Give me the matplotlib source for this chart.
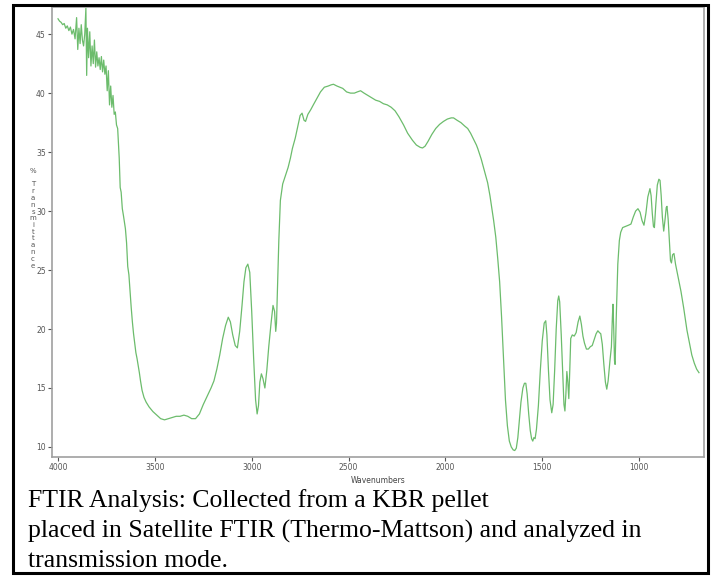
import matplotlib.pyplot as plt
from matplotlib.patches import Rectangle

# FTIR spectrum (wavenumber, % transmittance)
wavenumbers = [
    4000, 3992, 3984, 3976, 3968, 3960, 3952, 3944, 3936, 3928, 3920, 3912,
    3904, 3898, 3892, 3886, 3880, 3874, 3868, 3862, 3856, 3852, 3848, 3842,
    3836, 3830, 3824, 3818, 3812, 3806, 3800, 3794, 3788, 3782, 3776, 3770,
    3764, 3758, 3752, 3746, 3740, 3734, 3728, 3722, 3716, 3710, 3704, 3698,
    3692, 3684, 3679, 3674, 3668, 3662, 3656, 3652, 3646, 3640, 3634, 3628,
    3622, 3616, 3610, 3604, 3598, 3592, 3586, 3580, 3574, 3566, 3556, 3545,
    3530, 3510, 3490, 3470, 3450, 3430, 3410, 3390, 3370, 3350, 3330, 3310,
    3290, 3270, 3250, 3230, 3210, 3195, 3180, 3165, 3150, 3135, 3121, 3110,
    3098, 3085, 3074, 3062, 3050, 3040, 3030, 3020, 3010, 3000, 2990, 2980,
    2972, 2965, 2958, 2950, 2942, 2932, 2922, 2912, 2900, 2890, 2882, 2876,
    2872, 2866, 2860, 2852, 2840, 2826, 2812, 2800, 2790, 2775, 2762, 2750,
    2740, 2730, 2722, 2710, 2695, 2682, 2665, 2645, 2625, 2605, 2590, 2578,
    2560, 2545, 2530, 2510, 2490, 2470, 2455, 2438, 2420, 2400, 2380, 2360,
    2340, 2320, 2300, 2280, 2260, 2240, 2216, 2195, 2170, 2150, 2130, 2118,
    2105, 2090, 2070, 2050, 2030, 2010, 1990, 1970, 1958, 1940, 1920, 1900,
    1885, 1870, 1855, 1840, 1833, 1815, 1800, 1782, 1770, 1760, 1751, 1740,
    1730, 1720, 1710, 1700, 1690, 1680, 1670, 1660, 1650, 1642, 1634, 1626,
    1618, 1610, 1600, 1592, 1585, 1578, 1570, 1562, 1555, 1549, 1543, 1537,
    1530, 1520, 1510, 1500, 1490, 1482, 1476, 1468, 1460, 1451, 1444, 1436,
    1428, 1420, 1415, 1410, 1402, 1394, 1388, 1383, 1378, 1373, 1368, 1363,
    1358, 1353, 1345, 1335, 1325, 1315, 1306, 1298, 1290, 1282, 1272, 1262,
    1252, 1242, 1232, 1222, 1213, 1205, 1198, 1190, 1182, 1174, 1167, 1160,
    1150, 1143, 1138, 1135, 1131, 1127, 1124, 1118, 1110, 1102, 1095, 1085,
    1070, 1055, 1042, 1030, 1018, 1006, 995, 985, 975, 965, 955, 944,
    938, 932, 926, 921, 914, 906, 898, 892, 886, 880, 873, 866,
    860, 856, 850, 844, 838, 833, 827, 820, 812, 800, 784, 770,
    753, 740, 728, 715, 703, 691,
]
transmittance = [
    46.3, 46.1, 46.0, 45.8, 45.9, 45.5, 45.7, 45.3, 45.6, 45.0, 45.4, 44.6,
    46.4, 43.7, 45.5, 44.2, 45.8, 44.5, 44.0, 45.0, 47.2, 41.5, 45.5, 43.0,
    45.2, 42.3, 44.0, 42.5, 44.5, 42.2, 43.5, 42.3, 43.0, 42.0, 43.1, 41.8,
    42.8, 41.6, 42.3, 40.2, 41.9, 39.0, 40.6, 38.8, 39.8, 38.2, 38.4, 37.3,
    37.0, 34.5, 32.0, 31.6, 30.2, 29.6, 28.9, 28.5, 27.3, 25.3, 24.6, 23.2,
    21.8, 20.6, 19.6, 18.8, 18.0, 17.5, 16.9, 16.3, 15.6, 14.8, 14.2, 13.8,
    13.4, 13.0, 12.7, 12.4, 12.3, 12.4, 12.5, 12.6, 12.6, 12.7, 12.6, 12.4,
    12.4, 12.8, 13.6, 14.3, 15.0, 15.6, 16.6, 17.8, 19.2, 20.3, 21.0, 20.6,
    19.5, 18.6, 18.4, 19.8, 22.0, 24.0, 25.2, 25.5, 24.8, 21.5, 17.5, 14.0,
    12.8, 13.5, 15.5, 16.2, 15.8, 15.0, 16.5, 18.5, 20.5, 22.0, 21.5, 19.8,
    20.5, 24.0, 27.5, 30.9, 32.3, 33.0, 33.7, 34.5, 35.3, 36.2, 37.2, 38.1,
    38.3, 37.7, 37.6, 38.2, 38.6, 39.0, 39.5, 40.1, 40.5, 40.6, 40.7, 40.75,
    40.6, 40.5, 40.4, 40.1, 40.0, 40.0, 40.1, 40.2, 40.0, 39.8, 39.6, 39.4,
    39.3, 39.1, 39.0, 38.8, 38.5, 38.0, 37.3, 36.6, 36.0, 35.6, 35.4, 35.35,
    35.5, 35.9, 36.5, 37.0, 37.35, 37.6, 37.8, 37.9, 37.9, 37.7, 37.5, 37.2,
    37.0, 36.6, 36.1, 35.6, 35.3, 34.4, 33.5, 32.4, 31.3, 30.2, 29.2, 27.8,
    26.0, 24.0, 21.0, 17.5, 14.0, 11.8, 10.5, 10.0, 9.75, 9.7, 9.9, 10.8,
    12.3, 13.8, 15.0, 15.4, 15.4, 14.5, 12.8, 11.4, 10.7, 10.5, 10.8, 10.7,
    11.5, 13.5, 16.5, 19.0, 20.5, 20.7, 19.5, 16.5, 14.0, 12.9, 13.6, 16.5,
    20.0, 22.4, 22.8, 22.3, 19.5, 16.0, 13.6, 13.05, 14.5, 16.4, 15.5, 14.1,
    16.5, 19.2, 19.5, 19.4, 19.7, 20.6, 21.1, 20.4, 19.4, 18.8, 18.3, 18.3,
    18.5, 18.6, 19.1, 19.6, 19.85, 19.7, 19.6, 18.7, 17.0, 15.5, 14.9, 15.6,
    17.4, 18.5, 21.0, 22.1, 20.0, 17.3, 17.0, 21.0, 25.5, 27.5, 28.2, 28.6,
    28.7, 28.8, 28.9, 29.5, 30.0, 30.2, 29.9, 29.2, 28.8, 29.8, 31.2, 31.9,
    31.3, 29.8, 28.7, 28.6, 30.5, 32.2, 32.7, 32.6, 31.3, 29.5, 28.3, 29.3,
    30.3, 30.4, 29.3, 27.5, 25.8, 25.6, 26.3, 26.4, 25.5, 24.5, 23.2, 21.8,
    19.9, 18.8, 17.8, 17.1, 16.6, 16.3,
]
x_ticks = [4000, 3500, 3000, 2500, 2000, 1500, 1000]
y_ticks = [10, 15, 20, 25, 30, 35, 40, 45]
caption = [
    "FTIR Analysis: Collected from a KBR pellet",
    "placed in Satellite FTIR (Thermo-Mattson) and analyzed in",
    "transmission mode.",
]

fig = plt.figure(figsize=(7.2, 5.78), dpi=100)
ax = fig.add_axes([52 / 720, 1 - 457 / 578, 652 / 720, 450 / 578])

ax.plot(wavenumbers, transmittance, color='#6cbc6c', lw=0.9)

ax.set_xlim(4031, 665)
ax.set_ylim(9.15, 47.3)
ax.set_xticks(x_ticks)
ax.set_yticks(y_ticks)
ax.tick_params(labelsize=5.5, colors='#555555', length=3, width=0.8, pad=1.5)
for s in ax.spines.values():
    s.set_color('#a0a0a0')
    s.set_linewidth(1.2)

ax.set_xlabel('Wavenumbers', fontsize=5.5, color='#444444', labelpad=3)

# vertical stacked axis label
fig.text(33 / 720, 1 - 168 / 578, "%\n\nT\nr\na\nn\ns\nm\ni\nt\nt\na\nn\nc\ne",
         fontsize=5, color='#555555', ha='center', va='top', linespacing=1.15)

# caption below the chart
for i, line in enumerate(caption):
    fig.text(28 / 720, 1 - (501 + 30 * i) / 578, line, fontsize=18.5,
             family='Liberation Serif', ha='left', va='center')

# black frame round the whole picture
fig.patches.append(Rectangle((13 / 720, 5 / 578), 695 / 720, 568 / 578,
                             transform=fig.transFigure, fill=False,
                             edgecolor='black', lw=2.2))

fig.savefig('out.png', dpi=100)
